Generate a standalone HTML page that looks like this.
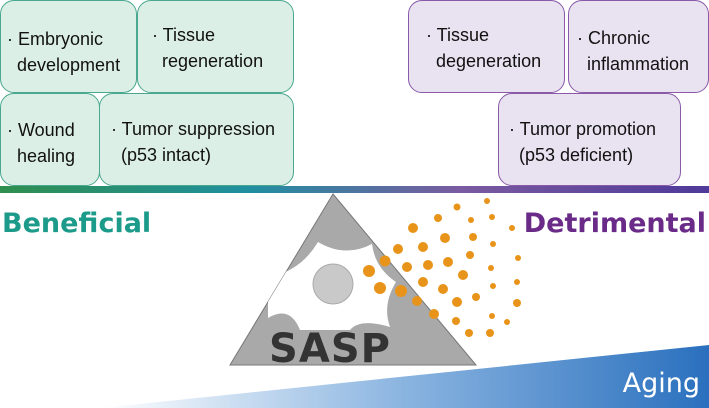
<!DOCTYPE html>
<html><head><meta charset="utf-8"><style>
body{margin:0;width:709px;height:408px;overflow:hidden;background:#fff;font-family:"Liberation Sans",sans-serif}
.b{position:absolute;box-sizing:border-box;border-radius:14px;font-size:18px;line-height:26px;color:#111;white-space:nowrap}
.g{background:#dcefe7;border:1.5px solid #4aa88e}
.p{background:#e8e2f1;border:1.5px solid #8a5aa8}
</style></head><body>
<div class="b g" style="left:0;top:0;width:137px;height:93px;padding:25px 0 0 6px">· Embryonic<br>&nbsp;&nbsp;development</div>
<div class="b g" style="left:137px;top:0;width:157px;height:93px;padding:21px 0 0 14px">· Tissue<br>&nbsp;&nbsp;regeneration</div>
<div class="b g" style="left:0;top:93px;width:100px;height:93px;padding:23px 0 0 6px">· Wound<br>&nbsp;&nbsp;healing</div>
<div class="b g" style="left:99px;top:93px;width:195px;height:93px;padding:22px 0 0 11px">· Tumor suppression<br>&nbsp;&nbsp;(p53 intact)</div>
<div class="b p" style="left:408px;top:0;width:157px;height:93px;padding:21px 0 0 17px">· Tissue<br>&nbsp;&nbsp;degeneration</div>
<div class="b p" style="left:568px;top:0;width:141px;height:93px;padding:24px 0 0 8px">· Chronic<br>&nbsp;&nbsp;inflammation</div>
<div class="b p" style="left:498px;top:93px;width:183px;height:93px;padding:22px 0 0 10px">· Tumor promotion<br>&nbsp;&nbsp;(p53 deficient)</div>
<svg width="709" height="408" style="position:absolute;left:0;top:0">
<defs>
<linearGradient id="bar"><stop offset="0" stop-color="#2f8f4e"/><stop offset="0.35" stop-color="#1f8fa0"/><stop offset="0.65" stop-color="#7a5aa0"/><stop offset="1" stop-color="#4f3a9a"/></linearGradient>
<linearGradient id="ag"><stop offset="0" stop-color="#fff"/><stop offset="0.5" stop-color="#8ab4e0"/><stop offset="1" stop-color="#2a70be"/></linearGradient>
<clipPath id="tri"><polygon points="333,194 230,365 476,365"/></clipPath>
</defs>
<rect x="0" y="186" width="709" height="7" fill="url(#bar)"/>
<polygon points="100,408 709,345 709,408" fill="url(#ag)"/>
<polygon points="333,194 230,365 476,365" fill="#a9a9a9" stroke="#777" stroke-width="1"/>
<g clip-path="url(#tri)">
<path d="M268,277 Q300,272 318,242 Q345,258 372,244 Q375,268 396,282 Q382,305 390,327 Q360,318 350,330 L300,330 Q290,305 268,318Z" fill="#fff"/>
</g>
<circle cx="333" cy="284" r="20" fill="#c9c9c9" stroke="#aaa"/>
<text x="330" y="362" text-anchor="middle" font-family="DejaVu Sans" font-weight="bold" font-size="40" fill="#333" letter-spacing="1">SASP</text>
<text x="2" y="232" font-family="DejaVu Sans" font-weight="bold" font-size="27" fill="#1c9a8a">Beneficial</text>
<text x="706" y="232" text-anchor="end" font-family="DejaVu Sans" font-weight="bold" font-size="27" fill="#6a2a88">Detrimental</text>
<text x="700" y="392" text-anchor="end" font-family="DejaVu Sans" font-size="27" fill="#fff">Aging</text>
<g fill="#e8941a">
<circle cx="487" cy="201" r="3"/><circle cx="457" cy="207" r="3.5"/><circle cx="438" cy="218" r="4"/><circle cx="471" cy="220" r="3"/><circle cx="492" cy="217" r="3"/><circle cx="413" cy="228" r="5"/><circle cx="512" cy="228" r="3"/><circle cx="445" cy="238" r="5"/><circle cx="473" cy="237" r="4"/><circle cx="398" cy="249" r="5"/><circle cx="423" cy="247" r="5"/><circle cx="493" cy="244" r="3"/><circle cx="385" cy="261" r="5.5"/><circle cx="407" cy="267" r="5"/><circle cx="428" cy="265" r="5"/><circle cx="448" cy="262" r="5"/><circle cx="470" cy="255" r="4"/><circle cx="518" cy="258" r="3"/><circle cx="369" cy="271" r="6"/><circle cx="463" cy="275" r="5"/><circle cx="491" cy="268" r="3"/><circle cx="380" cy="288" r="6"/><circle cx="401" cy="291" r="6"/><circle cx="423" cy="282" r="5"/><circle cx="443" cy="289" r="5"/><circle cx="493" cy="286" r="3"/><circle cx="517" cy="282" r="3"/><circle cx="417" cy="301" r="5"/><circle cx="457" cy="302" r="5"/><circle cx="476" cy="297" r="4"/><circle cx="517" cy="303" r="4"/><circle cx="434" cy="314" r="5"/><circle cx="456" cy="321" r="4"/><circle cx="492" cy="316" r="3"/><circle cx="507" cy="322" r="3"/><circle cx="469" cy="333" r="4"/><circle cx="490" cy="333" r="4"/>
</g>
</svg>
</body></html>
